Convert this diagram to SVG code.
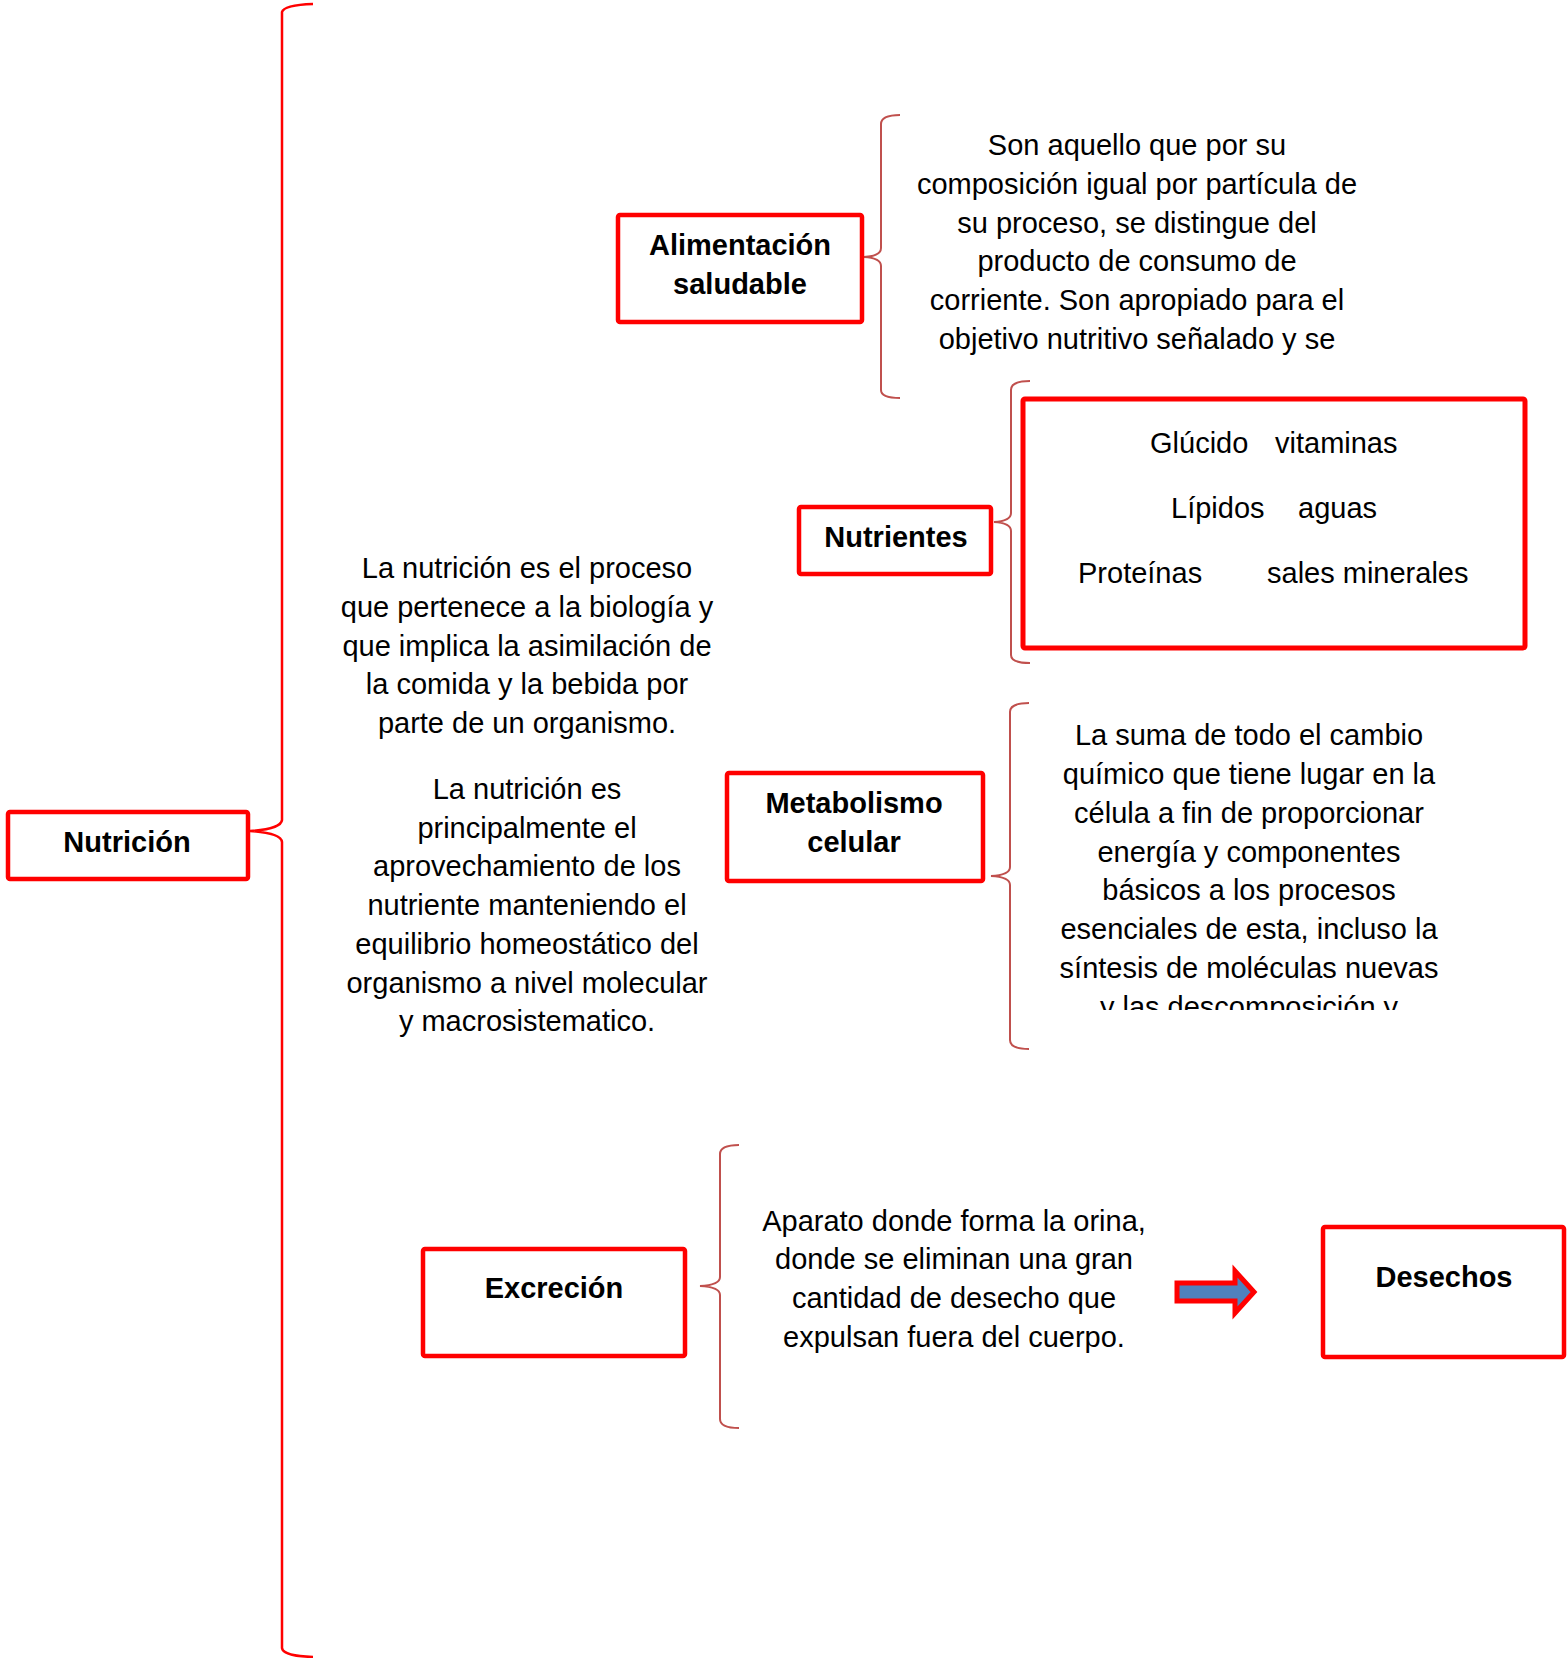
<svg xmlns="http://www.w3.org/2000/svg" width="1567" height="1658" viewBox="0 0 1567 1658">
<style>
.box{fill:#fff;stroke:#ff0000;stroke-width:4.5}
.lbl{font-family:"Liberation Sans",Arial,sans-serif;font-size:29px;font-weight:bold;fill:#000;text-anchor:middle}
.txt{font-family:"Liberation Sans",Arial,sans-serif;font-size:29px;fill:#000;text-anchor:middle}
.txs{font-family:"Liberation Sans",Arial,sans-serif;font-size:29px;fill:#000}
.br{fill:none;stroke:#c0504d;stroke-width:2}
.bigbr{fill:none;stroke:#ff0000;stroke-width:2.5}
</style>
<defs>
<clipPath id="clipA"><rect x="880" y="100" width="480" height="268"/></clipPath>
<clipPath id="clipM"><rect x="1030" y="700" width="450" height="310"/></clipPath>
</defs>
<rect width="1567" height="1658" fill="#fff"/>
<g id="connectors">
<path class="bigbr" d="M313,4 Q284,5 282,12 L282,820 Q281,829 250,831 Q281,833 282,842 L282,1648 Q283,1656 313,1657"/>
<path class="br" d="M900,115 Q881,115 881,124 L881,248 Q881,256 864,257 Q881,258 881,266 L881,390 Q881,398 900,398"/>
<path class="br" d="M1030,381 Q1011,381 1011,390 L1011,513 Q1011,521 994,522 Q1011,523 1011,531 L1011,655 Q1011,663 1030,663"/>
<path class="br" d="M1029,703 Q1010,703 1010,712 L1010,867 Q1010,875 991,876 Q1010,877 1010,885 L1010,1040 Q1010,1049 1029,1049"/>
<path class="br" d="M739,1145 Q720,1145 720,1154 L720,1277 Q720,1285 700,1286 Q720,1287 720,1295 L720,1419 Q720,1428 739,1428"/>
<polygon points="1177,1283 1235,1283 1235,1271 1254,1292 1235,1313 1235,1301 1177,1301" fill="#4f81bd" stroke="#ff0000" stroke-width="5"/>
</g>
<g id="nutricion">
<rect class="box" x="8" y="812" width="240" height="67" rx="2"/>
<text class="lbl" x="127" y="852">Nutrición</text>
</g>
<g id="alimentacion">
<rect class="box" x="618" y="215" width="244" height="107" rx="2"/>
<text class="lbl" x="740" y="255">Alimentación</text>
<text class="lbl" x="740" y="294">saludable</text>
</g>
<g id="alimentacion-desc" clip-path="url(#clipA)">
<text class="txt" x="1137" y="155">Son aquello que por su</text>
<text class="txt" x="1137" y="194">composición igual por partícula de</text>
<text class="txt" x="1137" y="233">su proceso, se distingue del</text>
<text class="txt" x="1137" y="271">producto de consumo de</text>
<text class="txt" x="1137" y="310">corriente. Son apropiado para el</text>
<text class="txt" x="1137" y="349">objetivo nutritivo señalado y se</text>
</g>
<g id="nutrientes">
<rect class="box" x="799" y="507" width="192" height="67" rx="2"/>
<text class="lbl" x="896" y="547">Nutrientes</text>
</g>
<g id="nutrientes-list">
<rect class="box" x="1023" y="399" width="502" height="249" rx="2" style="stroke-width:5"/>
<text class="txs" x="1150" y="453">Glúcido</text>
<text class="txs" x="1275" y="453">vitaminas</text>
<text class="txs" x="1171" y="518">Lípidos</text>
<text class="txs" x="1298" y="518">aguas</text>
<text class="txs" x="1078" y="583">Proteínas</text>
<text class="txs" x="1267" y="583">sales minerales</text>
</g>
<g id="nutricion-desc">
<text class="txt" x="527" y="578">La nutrición es el proceso</text>
<text class="txt" x="527" y="617">que pertenece a la biología y</text>
<text class="txt" x="527" y="656">que implica la asimilación de</text>
<text class="txt" x="527" y="694">la comida y la bebida por</text>
<text class="txt" x="527" y="733">parte de un organismo.</text>
<text class="txt" x="527" y="799">La nutrición es</text>
<text class="txt" x="527" y="838">principalmente el</text>
<text class="txt" x="527" y="876">aprovechamiento de los</text>
<text class="txt" x="527" y="915">nutriente manteniendo el</text>
<text class="txt" x="527" y="954">equilibrio homeostático del</text>
<text class="txt" x="527" y="993">organismo a nivel molecular</text>
<text class="txt" x="527" y="1031">y macrosistematico.</text>
</g>
<g id="metabolismo">
<rect class="box" x="727" y="773" width="256" height="108" rx="2"/>
<text class="lbl" x="854" y="813">Metabolismo</text>
<text class="lbl" x="854" y="852">celular</text>
</g>
<g id="metabolismo-desc" clip-path="url(#clipM)">
<text class="txt" x="1249" y="745">La suma de todo el cambio</text>
<text class="txt" x="1249" y="784">químico que tiene lugar en la</text>
<text class="txt" x="1249" y="823">célula a fin de proporcionar</text>
<text class="txt" x="1249" y="862">energía y componentes</text>
<text class="txt" x="1249" y="900">básicos a los procesos</text>
<text class="txt" x="1249" y="939">esenciales de esta, incluso la</text>
<text class="txt" x="1249" y="978">síntesis de moléculas nuevas</text>
<text class="txt" x="1249" y="1017">y las descomposición y</text>
</g>
<g id="excrecion">
<rect class="box" x="423" y="1249" width="262" height="107" rx="2"/>
<text class="lbl" x="554" y="1298">Excreción</text>
</g>
<g id="excrecion-desc">
<text class="txt" x="954" y="1231">Aparato donde forma la orina,</text>
<text class="txt" x="954" y="1269">donde se eliminan una gran</text>
<text class="txt" x="954" y="1308">cantidad de desecho que</text>
<text class="txt" x="954" y="1347">expulsan fuera del cuerpo.</text>
</g>
<g id="desechos">
<rect class="box" x="1323" y="1227" width="241" height="130" rx="2"/>
<text class="lbl" x="1444" y="1287">Desechos</text>
</g>
</svg>
